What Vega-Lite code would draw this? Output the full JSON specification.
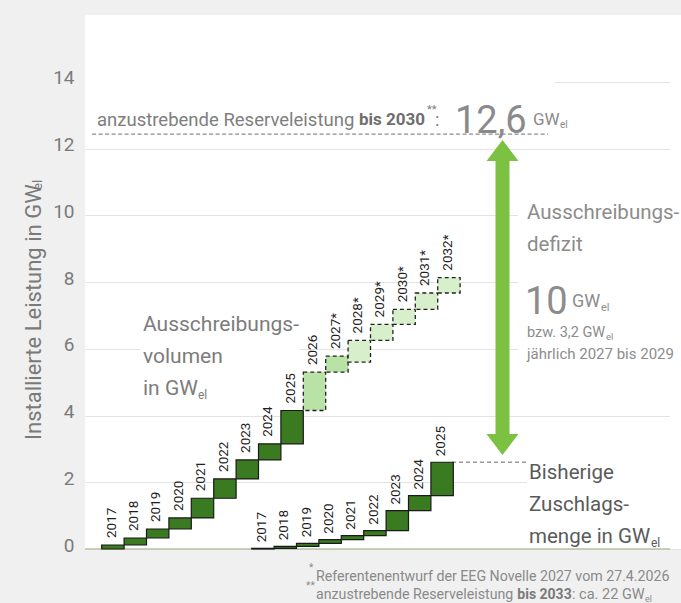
{
"$schema":"https://vega.github.io/schema/vega-lite/v6.json",
"width":596,"height":534,"autosize":"none",
"padding":{"left":85,"top":15,"right":0,"bottom":54},
"background":"#f0f0f0",
"config":{"view":{"stroke":null,"fill":"#ffffff"},"font":"Roboto"},
"datasets":{
"volumen":[
{"jahr":2017,"jahrEnde":2018,"label":"2017","von":0,"bis":0.12,"phase":"Ausschreibung"},
{"jahr":2018,"jahrEnde":2019,"label":"2018","von":0.12,"bis":0.33,"phase":"Ausschreibung"},
{"jahr":2019,"jahrEnde":2020,"label":"2019","von":0.33,"bis":0.6,"phase":"Ausschreibung"},
{"jahr":2020,"jahrEnde":2021,"label":"2020","von":0.6,"bis":0.93,"phase":"Ausschreibung"},
{"jahr":2021,"jahrEnde":2022,"label":"2021","von":0.93,"bis":1.52,"phase":"Ausschreibung"},
{"jahr":2022,"jahrEnde":2023,"label":"2022","von":1.52,"bis":2.1,"phase":"Ausschreibung"},
{"jahr":2023,"jahrEnde":2024,"label":"2023","von":2.1,"bis":2.67,"phase":"Ausschreibung"},
{"jahr":2024,"jahrEnde":2025,"label":"2024","von":2.67,"bis":3.15,"phase":"Ausschreibung"},
{"jahr":2025,"jahrEnde":2026,"label":"2025","von":3.15,"bis":4.15,"phase":"Ausschreibung"},
{"jahr":2026,"jahrEnde":2027,"label":"2026","von":4.15,"bis":5.3,"phase":"Novelle"},
{"jahr":2027,"jahrEnde":2028,"label":"2027*","von":5.3,"bis":5.78,"phase":"Novelle"},
{"jahr":2028,"jahrEnde":2029,"label":"2028*","von":5.6,"bis":6.25,"phase":"Referentenentwurf"},
{"jahr":2029,"jahrEnde":2030,"label":"2029*","von":6.25,"bis":6.73,"phase":"Referentenentwurf"},
{"jahr":2030,"jahrEnde":2031,"label":"2030*","von":6.73,"bis":7.18,"phase":"Referentenentwurf"},
{"jahr":2031,"jahrEnde":2032,"label":"2031*","von":7.18,"bis":7.67,"phase":"Referentenentwurf"},
{"jahr":2032,"jahrEnde":2033,"label":"2032*","von":7.67,"bis":8.13,"phase":"Referentenentwurf"}
],
"zuschlag":[
{"jahr":2017,"jahrEnde":2018,"label":"2017","von":0,"bis":0.02},
{"jahr":2018,"jahrEnde":2019,"label":"2018","von":0.02,"bis":0.08},
{"jahr":2019,"jahrEnde":2020,"label":"2019","von":0.08,"bis":0.17},
{"jahr":2020,"jahrEnde":2021,"label":"2020","von":0.17,"bis":0.28},
{"jahr":2021,"jahrEnde":2022,"label":"2021","von":0.28,"bis":0.4},
{"jahr":2022,"jahrEnde":2023,"label":"2022","von":0.4,"bis":0.55},
{"jahr":2023,"jahrEnde":2024,"label":"2023","von":0.55,"bis":1.15},
{"jahr":2024,"jahrEnde":2025,"label":"2024","von":1.15,"bis":1.6},
{"jahr":2025,"jahrEnde":2026,"label":"2025","von":1.6,"bis":2.6}
]
},
"resolve":{"scale":{"x":"independent"},"axis":{"y":"independent"}},
"layer":[
{"data":{"values":[{}]},"mark":{"type":"rect","color":"#ffffff"},"encoding":{"x":{"datum":2016.2545,"type":"quantitative","scale":{"domain":[2016.2545,2042.8616],"nice":false},"axis":null},"x2":{"datum":2037.237},"y":{"datum":14.292,"type":"quantitative","scale":{"domain":[0,16],"nice":false},"axis":null},"y2":{"datum":12.614}}},
{"data":{"values":[{}]},"mark":{"type":"rect","color":"#ffffff"},"encoding":{"x":{"datum":2018.71,"type":"quantitative","scale":{"domain":[2016.2545,2042.8616],"nice":false},"axis":null},"x2":{"datum":2025.853},"y":{"datum":7.46,"type":"quantitative","scale":{"domain":[0,16],"nice":false},"axis":null},"y2":{"datum":4.464}}},
{"data":{"values":[{}]},"mark":{"type":"rect","color":"#ffffff"},"encoding":{"x":{"datum":2035.585,"type":"quantitative","scale":{"domain":[2016.2545,2042.8616],"nice":false},"axis":null},"x2":{"datum":2042.8616},"y":{"datum":10.906,"type":"quantitative","scale":{"domain":[0,16],"nice":false},"axis":null},"y2":{"datum":5.513}}},
{"data":{"values":[{}]},"mark":{"type":"rect","color":"#ffffff"},"encoding":{"x":{"datum":2035.987,"type":"quantitative","scale":{"domain":[2016.2545,2042.8616],"nice":false},"axis":null},"x2":{"datum":2042.8616},"y":{"datum":3.266,"type":"quantitative","scale":{"domain":[0,16],"nice":false},"axis":null},"y2":{"datum":0.06}}},
{"data":{"values":[{}]},"mark":{"type":"rect","color":"#ffffff"},"encoding":{"x":{"datum":2042.37,"type":"quantitative","scale":{"domain":[2016.2545,2042.8616],"nice":false},"axis":null},"x2":{"datum":2042.8616},"y":{"datum":0,"type":"quantitative","scale":{"domain":[0,16],"nice":false},"axis":null},"y2":{"datum":16}}},
{"data":{"values":[{}]},"mark":{"type":"rule","color":"#b4c2a6","strokeWidth":1.5},"encoding":{"x":{"datum":2016.2545,"type":"quantitative","scale":{"domain":[2016.2545,2042.8616],"nice":false},"axis":null},"x2":{"datum":2042.37},"y":{"datum":0,"type":"quantitative","scale":{"domain":[0,16],"nice":false},"axis":null}}},
{"data":{"values":[{}]},"mark":{"type":"rule","color":"#8c8c8c","strokeWidth":1.3,"strokeDash":[4,2.5]},"encoding":{"x":{"datum":2016.571,"type":"quantitative","scale":{"domain":[2016.2545,2042.8616],"nice":false},"axis":null},"x2":{"datum":2036.92},"y":{"datum":12.43,"type":"quantitative","scale":{"domain":[0,16],"nice":false},"axis":null}}},
{"data":{"values":[{}]},"mark":{"type":"rule","color":"#9a9a9a","strokeWidth":1.3,"strokeDash":[4,3]},"encoding":{"x":{"datum":2032.638,"type":"quantitative","scale":{"domain":[2016.2545,2042.8616],"nice":false},"axis":null},"x2":{"datum":2036.03},"y":{"datum":2.6,"type":"quantitative","scale":{"domain":[0,16],"nice":false},"axis":null}}},
{"data":{"name":"volumen"},"transform":[{"filter":"datum.phase == 'Ausschreibung'"}],"mark":{"type":"rect","fill":"#3a7a21","stroke":"#1a1a1a","strokeWidth":1.2},"encoding":{"x":{"field":"jahr","type":"quantitative","scale":{"domain":[2016.2545,2042.8616],"nice":false},"axis":null},"x2":{"field":"jahrEnde"},"y":{"field":"von","type":"quantitative","scale":{"domain":[0,16],"nice":false},"axis":{"orient":"left","values":[0,2,4,6,8,10,12,14],"title":null,"grid":true,"gridColor":"#e3e3e3","gridWidth":1,"domain":false,"ticks":false,"labelFontSize":19,"labelColor":"#7a7a7a","labelPadding":11,"labelOffset":-4}},"y2":{"field":"bis"}}},
{"data":{"name":"volumen"},"transform":[{"filter":"datum.phase != 'Ausschreibung'"}],"mark":{"type":"rect","stroke":"#222222","strokeWidth":1.3,"strokeDash":[4,3]},"encoding":{"x":{"field":"jahr","type":"quantitative","scale":{"domain":[2016.2545,2042.8616],"nice":false},"axis":null},"x2":{"field":"jahrEnde"},"y":{"field":"von","type":"quantitative","scale":{"domain":[0,16],"nice":false},"axis":null},"y2":{"field":"bis"},"fill":{"field":"phase","type":"nominal","scale":{"domain":["Novelle","Referentenentwurf"],"range":["#b9e2a7","#d7efcb"]},"legend":null}}},
{"data":{"name":"volumen"},"mark":{"type":"text","angle":270,"align":"left","baseline":"middle","dx":7,"dy":10,"fontSize":13.5,"color":"#1e1e1e"},"encoding":{"x":{"field":"jahr","type":"quantitative","scale":{"domain":[2016.2545,2042.8616],"nice":false},"axis":null},"y":{"field":"bis","type":"quantitative","scale":{"domain":[0,16],"nice":false},"axis":null},"text":{"field":"label"}}},
{"data":{"name":"zuschlag"},"mark":{"type":"rect","fill":"#3a7a21","stroke":"#1a1a1a","strokeWidth":1.2},"encoding":{"x":{"field":"jahr","type":"quantitative","scale":{"domain":[2009.558,2036.165],"nice":false},"axis":null},"x2":{"field":"jahrEnde"},"y":{"field":"von","type":"quantitative","scale":{"domain":[0,16],"nice":false},"axis":null},"y2":{"field":"bis"}}},
{"data":{"name":"zuschlag"},"mark":{"type":"text","angle":270,"align":"left","baseline":"middle","dx":6,"dy":10,"fontSize":13.5,"color":"#1e1e1e"},"encoding":{"x":{"field":"jahr","type":"quantitative","scale":{"domain":[2009.558,2036.165],"nice":false},"axis":null},"y":{"field":"bis","type":"quantitative","scale":{"domain":[0,16],"nice":false},"axis":null},"text":{"field":"label"}}},
{"data":{"values":[{}]},"mark":{"type":"rule","color":"#7dc143","strokeWidth":14},"encoding":{"x":{"datum":2034.893,"type":"quantitative","scale":{"domain":[2016.2545,2042.8616],"nice":false},"axis":null},"y":{"datum":11.805,"type":"quantitative","scale":{"domain":[0,16],"nice":false},"axis":null},"y2":{"datum":3.266}}},
{"data":{"values":[{}]},"mark":{"type":"point","shape":"M0,-0.656L1,0.656L-1,0.656Z","filled":true,"opacity":1,"color":"#7dc143","size":1024},"encoding":{"x":{"datum":2034.893,"type":"quantitative","scale":{"domain":[2016.2545,2042.8616],"nice":false},"axis":null},"y":{"datum":11.94,"type":"quantitative","scale":{"domain":[0,16],"nice":false},"axis":null}}},
{"data":{"values":[{}]},"mark":{"type":"point","shape":"M0,0.656L1,-0.656L-1,-0.656Z","filled":true,"opacity":1,"color":"#7dc143","size":1024},"encoding":{"x":{"datum":2034.893,"type":"quantitative","scale":{"domain":[2016.2545,2042.8616],"nice":false},"axis":null},"y":{"datum":3.131,"type":"quantitative","scale":{"domain":[0,16],"nice":false},"axis":null}}},
{"data":{"values":[{}]},"mark":{"type":"text","text":"anzustrebende Reserveleistung","align":"left","fontSize":18.5,"color":"#7e7e7e"},"encoding":{"x":{"datum":2016.79,"type":"quantitative","scale":{"domain":[2016.2545,2042.8616],"nice":false},"axis":null},"y":{"datum":12.854,"type":"quantitative","scale":{"domain":[0,16],"nice":false},"axis":null}}},
{"data":{"values":[{}]},"mark":{"type":"text","text":"bis 2030","align":"left","fontSize":17,"fontWeight":"bold","color":"#6e6e6e"},"encoding":{"x":{"datum":2028.487,"type":"quantitative","scale":{"domain":[2016.2545,2042.8616],"nice":false},"axis":null},"y":{"datum":12.854,"type":"quantitative","scale":{"domain":[0,16],"nice":false},"axis":null}}},
{"data":{"values":[{}]},"mark":{"type":"text","text":"**","align":"left","fontSize":11,"color":"#7e7e7e"},"encoding":{"x":{"datum":2031.522,"type":"quantitative","scale":{"domain":[2016.2545,2042.8616],"nice":false},"axis":null},"y":{"datum":13.154,"type":"quantitative","scale":{"domain":[0,16],"nice":false},"axis":null}}},
{"data":{"values":[{}]},"mark":{"type":"text","text":":","align":"left","fontSize":18.5,"color":"#7e7e7e"},"encoding":{"x":{"datum":2031.884,"type":"quantitative","scale":{"domain":[2016.2545,2042.8616],"nice":false},"axis":null},"y":{"datum":12.854,"type":"quantitative","scale":{"domain":[0,16],"nice":false},"axis":null}}},
{"data":{"values":[{}]},"mark":{"type":"text","text":"12,6","align":"left","fontSize":38,"color":"#8a8a8a"},"encoding":{"x":{"datum":2032.772,"type":"quantitative","scale":{"domain":[2016.2545,2042.8616],"nice":false},"axis":null},"y":{"datum":12.794,"type":"quantitative","scale":{"domain":[0,16],"nice":false},"axis":null}}},
{"data":{"values":[{}]},"mark":{"type":"text","text":"GW","align":"left","fontSize":17,"color":"#8a8a8a"},"encoding":{"x":{"datum":2036.254,"type":"quantitative","scale":{"domain":[2016.2545,2042.8616],"nice":false},"axis":null},"y":{"datum":12.854,"type":"quantitative","scale":{"domain":[0,16],"nice":false},"axis":null}}},
{"data":{"values":[{}]},"mark":{"type":"text","text":"el","align":"left","fontSize":10,"color":"#8a8a8a"},"encoding":{"x":{"datum":2037.46,"type":"quantitative","scale":{"domain":[2016.2545,2042.8616],"nice":false},"axis":null},"y":{"datum":12.704,"type":"quantitative","scale":{"domain":[0,16],"nice":false},"axis":null}}},
{"data":{"values":[{}]},"mark":{"type":"text","text":"Ausschreibungs-","align":"left","fontSize":20.5,"color":"#8c8c8c"},"encoding":{"x":{"datum":2035.987,"type":"quantitative","scale":{"domain":[2016.2545,2042.8616],"nice":false},"axis":null},"y":{"datum":10.067,"type":"quantitative","scale":{"domain":[0,16],"nice":false},"axis":null}}},
{"data":{"values":[{}]},"mark":{"type":"text","text":"defizit","align":"left","fontSize":20.5,"color":"#8c8c8c"},"encoding":{"x":{"datum":2035.987,"type":"quantitative","scale":{"domain":[2016.2545,2042.8616],"nice":false},"axis":null},"y":{"datum":9.109,"type":"quantitative","scale":{"domain":[0,16],"nice":false},"axis":null}}},
{"data":{"values":[{}]},"mark":{"type":"text","text":"10","align":"left","fontSize":38,"color":"#8c8c8c"},"encoding":{"x":{"datum":2035.897,"type":"quantitative","scale":{"domain":[2016.2545,2042.8616],"nice":false},"axis":null},"y":{"datum":7.371,"type":"quantitative","scale":{"domain":[0,16],"nice":false},"axis":null}}},
{"data":{"values":[{}]},"mark":{"type":"text","text":"GW","align":"left","fontSize":18,"color":"#8c8c8c"},"encoding":{"x":{"datum":2037.996,"type":"quantitative","scale":{"domain":[2016.2545,2042.8616],"nice":false},"axis":null},"y":{"datum":7.401,"type":"quantitative","scale":{"domain":[0,16],"nice":false},"axis":null}}},
{"data":{"values":[{}]},"mark":{"type":"text","text":"el","align":"left","fontSize":11,"color":"#8c8c8c"},"encoding":{"x":{"datum":2039.29,"type":"quantitative","scale":{"domain":[2016.2545,2042.8616],"nice":false},"axis":null},"y":{"datum":7.221,"type":"quantitative","scale":{"domain":[0,16],"nice":false},"axis":null}}},
{"data":{"values":[{}]},"mark":{"type":"text","text":"bzw. 3,2 GW","align":"left","fontSize":14.5,"color":"#8c8c8c"},"encoding":{"x":{"datum":2035.987,"type":"quantitative","scale":{"domain":[2016.2545,2042.8616],"nice":false},"axis":null},"y":{"datum":6.472,"type":"quantitative","scale":{"domain":[0,16],"nice":false},"axis":null}}},
{"data":{"values":[{}]},"mark":{"type":"text","text":"el","align":"left","fontSize":9.5,"color":"#8c8c8c"},"encoding":{"x":{"datum":2039.513,"type":"quantitative","scale":{"domain":[2016.2545,2042.8616],"nice":false},"axis":null},"y":{"datum":6.352,"type":"quantitative","scale":{"domain":[0,16],"nice":false},"axis":null}}},
{"data":{"values":[{}]},"mark":{"type":"text","text":"jährlich 2027 bis 2029","align":"left","fontSize":15,"color":"#8c8c8c"},"encoding":{"x":{"datum":2035.987,"type":"quantitative","scale":{"domain":[2016.2545,2042.8616],"nice":false},"axis":null},"y":{"datum":5.843,"type":"quantitative","scale":{"domain":[0,16],"nice":false},"axis":null}}},
{"data":{"values":[{}]},"mark":{"type":"text","text":"Ausschreibungs-","align":"left","fontSize":21,"color":"#7c7c7c"},"encoding":{"x":{"datum":2018.844,"type":"quantitative","scale":{"domain":[2016.2545,2042.8616],"nice":false},"axis":null},"y":{"datum":6.712,"type":"quantitative","scale":{"domain":[0,16],"nice":false},"axis":null}}},
{"data":{"values":[{}]},"mark":{"type":"text","text":"volumen","align":"left","fontSize":21,"color":"#7c7c7c"},"encoding":{"x":{"datum":2018.844,"type":"quantitative","scale":{"domain":[2016.2545,2042.8616],"nice":false},"axis":null},"y":{"datum":5.753,"type":"quantitative","scale":{"domain":[0,16],"nice":false},"axis":null}}},
{"data":{"values":[{}]},"mark":{"type":"text","text":"in GW","align":"left","fontSize":21,"color":"#7c7c7c"},"encoding":{"x":{"datum":2018.844,"type":"quantitative","scale":{"domain":[2016.2545,2042.8616],"nice":false},"axis":null},"y":{"datum":4.794,"type":"quantitative","scale":{"domain":[0,16],"nice":false},"axis":null}}},
{"data":{"values":[{}]},"mark":{"type":"text","text":"el","align":"left","fontSize":12,"color":"#7c7c7c"},"encoding":{"x":{"datum":2021.299,"type":"quantitative","scale":{"domain":[2016.2545,2042.8616],"nice":false},"axis":null},"y":{"datum":4.614,"type":"quantitative","scale":{"domain":[0,16],"nice":false},"axis":null}}},
{"data":{"values":[{}]},"mark":{"type":"text","text":"Bisherige","align":"left","fontSize":20.5,"color":"#5a5a5a"},"encoding":{"x":{"datum":2036.076,"type":"quantitative","scale":{"domain":[2016.2545,2042.8616],"nice":false},"axis":null},"y":{"datum":2.277,"type":"quantitative","scale":{"domain":[0,16],"nice":false},"axis":null}}},
{"data":{"values":[{}]},"mark":{"type":"text","text":"Zuschlags-","align":"left","fontSize":20.5,"color":"#5a5a5a"},"encoding":{"x":{"datum":2036.076,"type":"quantitative","scale":{"domain":[2016.2545,2042.8616],"nice":false},"axis":null},"y":{"datum":1.318,"type":"quantitative","scale":{"domain":[0,16],"nice":false},"axis":null}}},
{"data":{"values":[{}]},"mark":{"type":"text","text":"menge in GW","align":"left","fontSize":20.5,"color":"#5a5a5a"},"encoding":{"x":{"datum":2036.076,"type":"quantitative","scale":{"domain":[2016.2545,2042.8616],"nice":false},"axis":null},"y":{"datum":0.36,"type":"quantitative","scale":{"domain":[0,16],"nice":false},"axis":null}}},
{"data":{"values":[{}]},"mark":{"type":"text","text":"el","align":"left","fontSize":12,"color":"#5a5a5a"},"encoding":{"x":{"datum":2041.522,"type":"quantitative","scale":{"domain":[2016.2545,2042.8616],"nice":false},"axis":null},"y":{"datum":0.18,"type":"quantitative","scale":{"domain":[0,16],"nice":false},"axis":null}}},
{"data":{"values":[{}]},"mark":{"type":"text","text":"Installierte Leistung in GW","angle":270,"align":"left","fontSize":22,"color":"#7a7a7a"},"encoding":{"x":{"datum":2013.978,"type":"quantitative","scale":{"domain":[2016.2545,2042.8616],"nice":false},"axis":null},"y":{"datum":3.266,"type":"quantitative","scale":{"domain":[0,16],"nice":false},"axis":null}}},
{"data":{"values":[{}]},"mark":{"type":"text","text":"el","angle":270,"align":"left","fontSize":13,"color":"#7a7a7a"},"encoding":{"x":{"datum":2014.156,"type":"quantitative","scale":{"domain":[2016.2545,2042.8616],"nice":false},"axis":null},"y":{"datum":10.757,"type":"quantitative","scale":{"domain":[0,16],"nice":false},"axis":null}}},
{"data":{"values":[{}]},"mark":{"type":"text","text":"*","align":"left","fontSize":10,"color":"#8a8a8a"},"encoding":{"x":{"datum":2026.254,"type":"quantitative","scale":{"domain":[2016.2545,2042.8616],"nice":false},"axis":null},"y":{"datum":-0.569,"type":"quantitative","scale":{"domain":[0,16],"nice":false},"axis":null}}},
{"data":{"values":[{}]},"mark":{"type":"text","text":"Referentenentwurf der EEG Novelle 2027 vom 27.4.2026","align":"left","fontSize":14.2,"color":"#8a8a8a"},"encoding":{"x":{"datum":2026.567,"type":"quantitative","scale":{"domain":[2016.2545,2042.8616],"nice":false},"axis":null},"y":{"datum":-0.839,"type":"quantitative","scale":{"domain":[0,16],"nice":false},"axis":null}}},
{"data":{"values":[{}]},"mark":{"type":"text","text":"**","align":"left","fontSize":10,"color":"#8a8a8a"},"encoding":{"x":{"datum":2026.125,"type":"quantitative","scale":{"domain":[2016.2545,2042.8616],"nice":false},"axis":null},"y":{"datum":-1.109,"type":"quantitative","scale":{"domain":[0,16],"nice":false},"axis":null}}},
{"data":{"values":[{}]},"mark":{"type":"text","text":"anzustrebende Reserveleistung","align":"left","fontSize":14.2,"color":"#8a8a8a"},"encoding":{"x":{"datum":2026.567,"type":"quantitative","scale":{"domain":[2016.2545,2042.8616],"nice":false},"axis":null},"y":{"datum":-1.378,"type":"quantitative","scale":{"domain":[0,16],"nice":false},"axis":null}}},
{"data":{"values":[{}]},"mark":{"type":"text","text":"bis 2033","align":"left","fontSize":14,"fontWeight":"bold","color":"#7a7a7a"},"encoding":{"x":{"datum":2035.554,"type":"quantitative","scale":{"domain":[2016.2545,2042.8616],"nice":false},"axis":null},"y":{"datum":-1.378,"type":"quantitative","scale":{"domain":[0,16],"nice":false},"axis":null}}},
{"data":{"values":[{}]},"mark":{"type":"text","text":": ca. 22 GW","align":"left","fontSize":14.5,"color":"#8a8a8a"},"encoding":{"x":{"datum":2037.996,"type":"quantitative","scale":{"domain":[2016.2545,2042.8616],"nice":false},"axis":null},"y":{"datum":-1.378,"type":"quantitative","scale":{"domain":[0,16],"nice":false},"axis":null}}},
{"data":{"values":[{}]},"mark":{"type":"text","text":"el","align":"left","fontSize":9,"color":"#8a8a8a"},"encoding":{"x":{"datum":2041.254,"type":"quantitative","scale":{"domain":[2016.2545,2042.8616],"nice":false},"axis":null},"y":{"datum":-1.498,"type":"quantitative","scale":{"domain":[0,16],"nice":false},"axis":null}}}
]
}
